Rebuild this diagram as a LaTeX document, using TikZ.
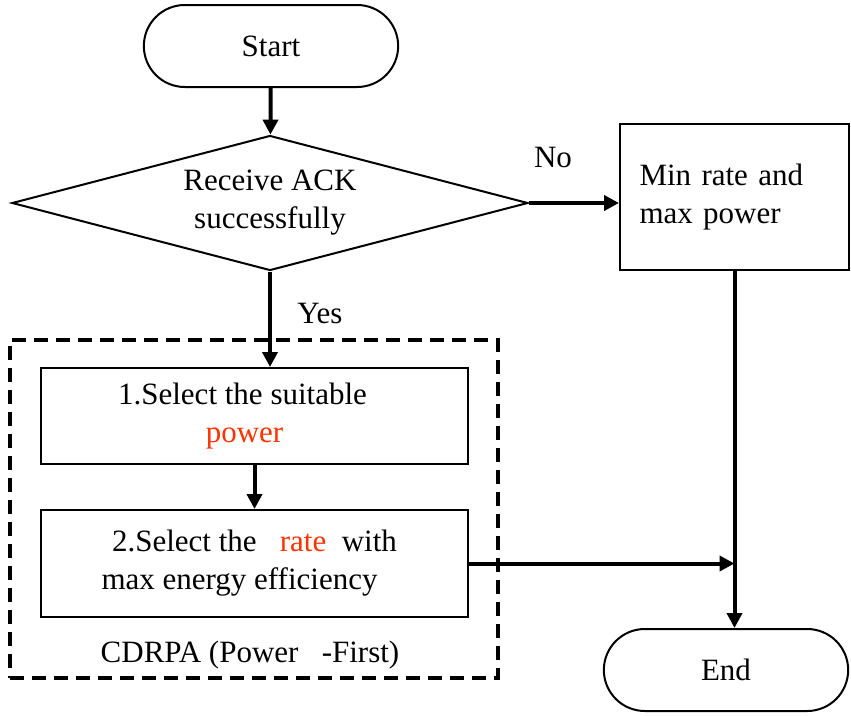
\documentclass[tikz,border=0pt]{standalone}
\usepackage{fontspec}
\setmainfont{Liberation Serif}
\usetikzlibrary{arrows.meta,shapes.geometric,shapes.misc,calc}
\definecolor{hilite}{RGB}{255,51,0}

\begin{document}
\begin{tikzpicture}[x=1pt,y=-1pt,>={Triangle[length=15pt,width=15pt]},
                    font=\fontsize{31}{38}\selectfont]
  \tikzstyle{terminal}=[rounded rectangle,draw,line width=2pt,minimum height=82pt]
  \tikzstyle{place}=[rectangle,draw=black,fill=white,line width=2pt,minimum width=427pt]
  \tikzstyle{decide}=[diamond,draw,line width=2pt,inner sep=0pt,shape aspect=3.82,
                      minimum width=516pt,minimum height=135pt,align=center]
  \tikzstyle{flow}=[->,line width=4pt]

  \useasboundingbox (0,0) rectangle (851,715);

  % dashed group for the CDRPA steps
  \node[draw,dashed,line width=4pt,dash pattern=on 14pt off 8pt,
        minimum width=488pt,minimum height=338pt] (grp) at (254,509) {};
  \node (grplbl) at (250,655) {CDRPA (Power\ \ \ -First)};

  \node[terminal,minimum width=261pt] (start) at (271,46)    {Start};
  \node[decide] (ack)                   at (270,203)        {Receive ACK\\successfully};
  \node[place,minimum width=229pt,minimum height=146pt,align=left,text width=190pt]
        (minbox) at (734.5,197) {Min rate and\\max power};
  \node[place,minimum height=96pt,align=center] (sel1) at (254.5,416)
        {1.Select the suitable\hspace*{24pt}\\\textcolor{hilite}{power}\hspace*{20pt}};
  \node[place,minimum height=107pt,align=center] (sel2) at (254.5,563.5)
        {2.Select the\ \ \ \textcolor{hilite}{rate}\ \ with\\max energy efficiency\hspace*{30pt}};
  \node[terminal,minimum width=251pt] (end) at (726,670)  {End};

  \node (nolbl)  at (553,157) {No};
  \node (yeslbl) at (320,313) {Yes};

  \coordinate (join) at (minbox.south |- sel2.east);

  \path
(start) edge [flow] (ack)
(ack.east) edge [flow] (ack.east -| minbox.west)
(ack.south) edge [flow] (ack.south |- sel1.north)
(sel1) edge [flow] (sel2)
(sel2.east) edge [flow] (join)
(minbox.south) edge [flow] (minbox.south |- end.north);
\end{tikzpicture}
\end{document}
